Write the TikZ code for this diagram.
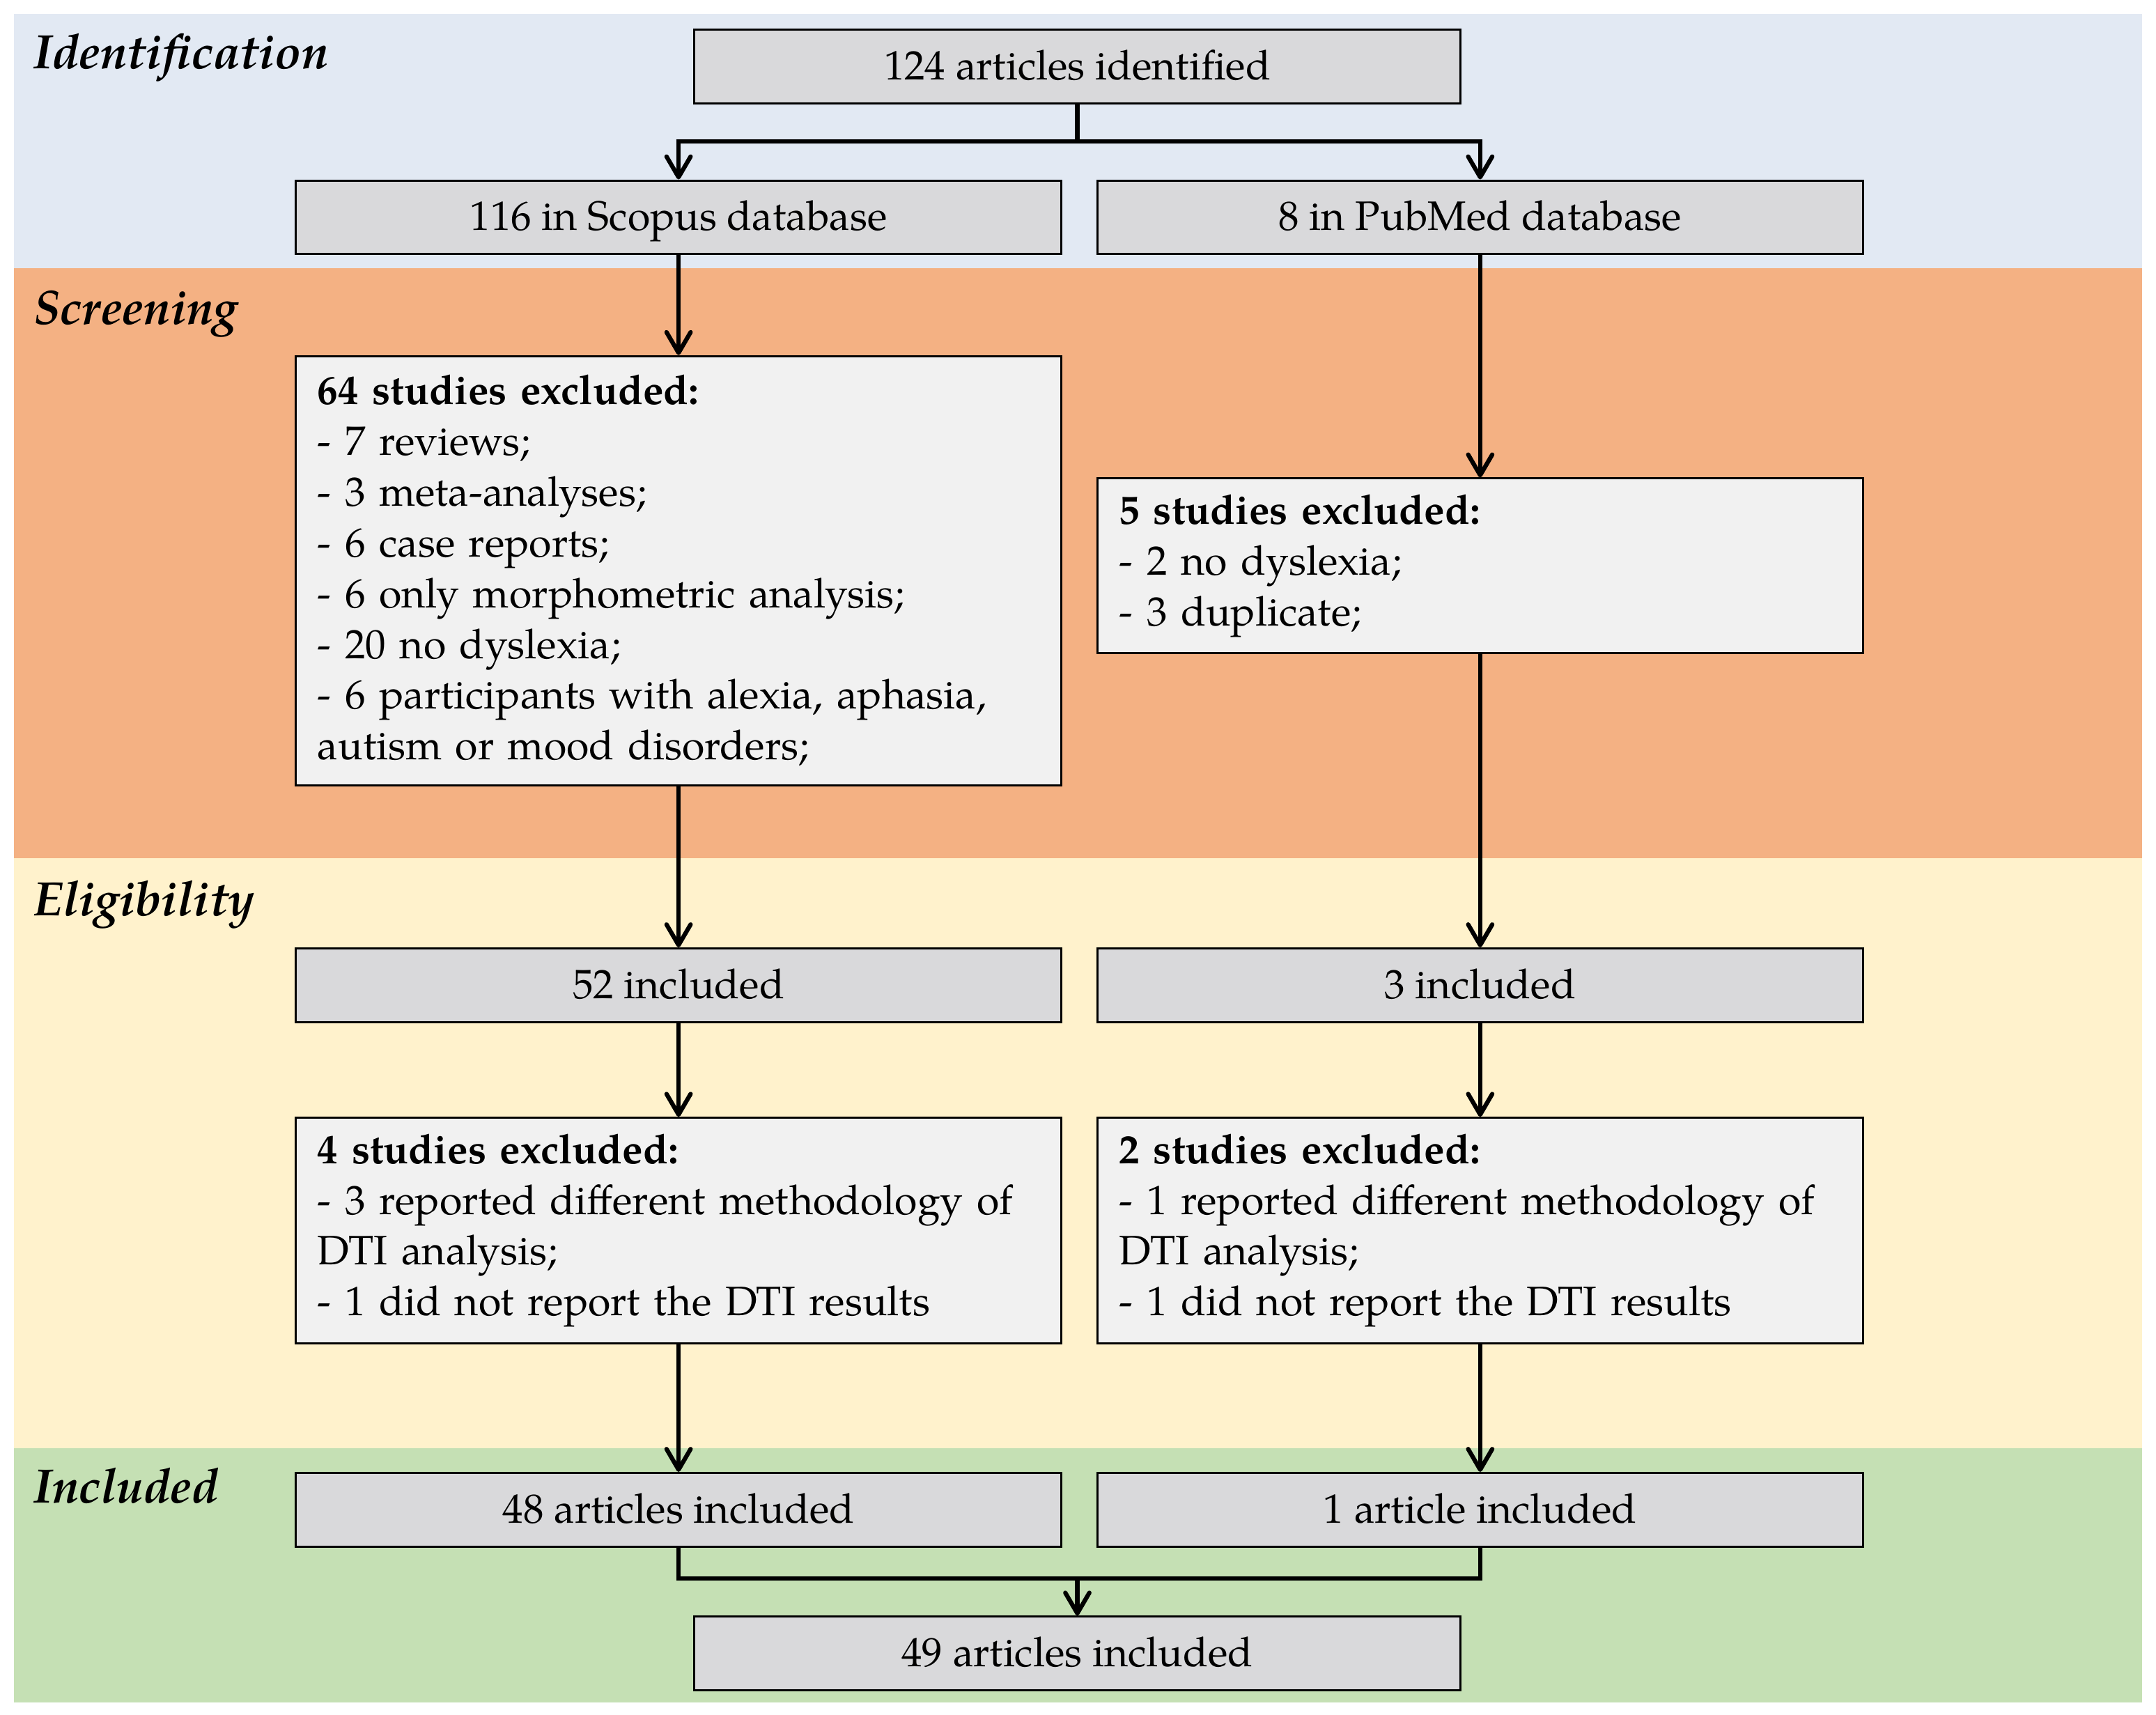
\documentclass[tikz,border=0pt]{standalone}
\usepackage{fontspec}
\setmainfont{TeX Gyre Pagella}
\usetikzlibrary{arrows.meta,calc}

\definecolor{identbg}{RGB}{226,233,243}
\definecolor{screenbg}{RGB}{244,177,131}
\definecolor{eligbg}{RGB}{255,242,204}
\definecolor{inclbg}{RGB}{197,224,180}
\definecolor{boxgray}{RGB}{217,217,219}
\definecolor{boxlight}{RGB}{241,241,241}

\begin{document}
\begin{tikzpicture}
      \tikzset{count box/.style={draw=black,
          line width=0.9pt,
          fill=boxgray,
          minimum width=11.14cm,
          minimum height=1.07cm,
          inner sep=0pt,
          text height=12.5pt,
          text depth=1.5pt,
          font=\fontsize{17}{21}\selectfont},
        excl box/.style={draw=black,
          line width=0.9pt,
          fill=boxlight,
          text width=10.5cm,
          inner xsep=0.32cm,
          inner ysep=0pt,
          align=left,
          minimum height=#1,
          font=\fontsize{17}{21}\selectfont},
        stage/.style={anchor=base west,
          inner sep=0pt,
          font=\fontsize{20}{24}\selectfont\bfseries\itshape},
        link/.style={line width=1.8pt},
        flow/.style={link, -{Straight Barb[length=3mm,width=3.5mm,round]}}
      }
      \useasboundingbox (0,0) rectangle (31.36,-24.94);
      % stage bands
      \fill [identbg] (0.2,-0.2) rectangle (31.16,-3.9);
      \fill [screenbg] (0.2,-3.9) rectangle (31.16,-12.48);
      \fill [eligbg] (0.2,-12.48) rectangle (31.16,-21.06);
      \fill [inclbg] (0.2,-21.06) rectangle (31.16,-24.76);

      \node [stage] (lblident) at (0.48,-1.0) {Identification};
      \node [stage] (lblscreen) at (0.48,-4.72) {Screening};
      \node [stage] (lblelig) at (0.48,-13.32) {Eligibility};
      \node [stage] (lblincl) at (0.48,-21.86) {Included};

      % boxes
      \node [count box] (ident) at (15.67,-0.97) {124 articles identified};
      \node [count box] (scopus) at (9.87,-3.16) {116 in Scopus database};
      \node [count box] (pubmed) at (21.53,-3.16) {8 in PubMed database};
      \node [excl box=6.24cm] (exscopus) at (9.87,-8.30) {\textbf{64 studies excluded:}\\
        - 7 reviews;\\
        - 3 meta-analyses;\\
        - 6 case reports;\\
        - 6 only morphometric analysis;\\
        - 20 no dyslexia;\\
        - 6 participants with alexia, aphasia,\\
        autism or mood disorders;};
      \node [excl box=2.54cm] (expubmed) at (21.53,-8.23) {\textbf{5 studies excluded:}\\
        - 2 no dyslexia;\\
        - 3 duplicate;};
      \node [count box] (inscopus) at (9.87,-14.33) {52 included};
      \node [count box] (inpubmed) at (21.53,-14.33) {3 included};
      \node [excl box=3.28cm] (exscopusb) at (9.87,-17.90) {\textbf{4 studies excluded:}\\
        - 3 reported different methodology of\\
        DTI analysis;\\
        - 1 did not report the DTI results};
      \node [excl box=3.28cm] (expubmedb) at (21.53,-17.90) {\textbf{2 studies excluded:}\\
        - 1 reported different methodology of\\
        DTI analysis;\\
        - 1 did not report the DTI results};
      \node [count box] (finscopus) at (9.87,-21.96) {48 articles included};
      \node [count box] (finpubmed) at (21.53,-21.96) {1 article included};
      \node [count box] (total) at (15.67,-24.05) {49 articles included};

      % connectors
      \coordinate (split) at (15.67,-2.06);
      \coordinate (merge) at (15.67,-22.96);
      \draw [link] (ident) -- (split);
      \draw [flow] (split) -| (scopus);
      \draw [flow] (split) -| (pubmed);
      \draw [flow] (scopus) -- (exscopus);
      \draw [flow] (pubmed) -- (expubmed);
      \draw [flow] (exscopus) -- (inscopus);
      \draw [flow] (expubmed) -- (inpubmed);
      \draw [flow] (inscopus) -- (exscopusb);
      \draw [flow] (inpubmed) -- (expubmedb);
      \draw [flow] (exscopusb) -- (finscopus);
      \draw [flow] (expubmedb) -- (finpubmed);
      \draw [link] (finscopus) |- (merge) -| (finpubmed);
      \draw [flow] (merge) -- (total);

    \end{tikzpicture}
\end{document}
